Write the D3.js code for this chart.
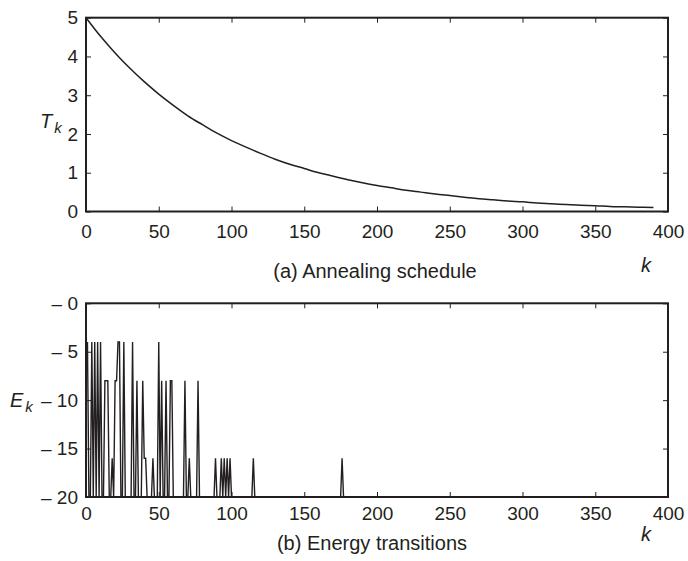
<!DOCTYPE html>
<html>
<head>
<meta charset="utf-8">
<script src="https://cdn.jsdelivr.net/npm/d3@7"></script>
<style>
  body { margin: 0; background: #fff; }
  svg { display: block; }
</style>
</head>
<body>
<div id="main"></div>
<script>
// tick labels
const kTicks = [0, 50, 100, 150, 200, 250, 300, 350, 400];
const tTicks = [0, 1, 2, 3, 4, 5];
const eTicks = [-20, -15, -10, -5, 0];

// (a) annealing schedule, read every 10 steps
const scheduleK = [0, 10, 20, 30, 40, 50, 60, 70, 80, 90, 100, 110, 120, 130, 140, 150, 160, 170, 180, 190,
                   200, 210, 220, 230, 240, 250, 260, 270, 280, 290, 300, 310, 320, 330, 340, 350, 360, 370, 380, 390];
const scheduleT = [5.00, 4.52, 4.09, 3.70, 3.35, 3.03, 2.74, 2.47, 2.24, 2.02, 1.83, 1.66, 1.50, 1.35, 1.22, 1.11, 1.00, 0.91, 0.82, 0.74,
                   0.67, 0.61, 0.55, 0.50, 0.45, 0.41, 0.37, 0.33, 0.30, 0.27, 0.25, 0.22, 0.20, 0.18, 0.16, 0.15, 0.13, 0.12, 0.11, 0.10];

// (b) energy transitions, vertices of the trace
const energyK = [0, 1, 2, 3, 4, 5, 6, 7, 8, 9, 10, 11, 12, 13, 14, 15, 16, 17, 18, 19,
                 20, 21, 22, 23, 24, 25, 26, 27, 31, 32, 33, 34, 35, 36, 38, 39, 40, 41, 42, 45,
                 46, 47, 49, 50, 51, 52, 53, 54, 55, 56, 57, 58, 59, 60, 67, 68, 69, 70, 71, 72,
                 76, 77, 78, 88, 89, 90, 92, 93, 94, 95, 96, 97, 98, 99, 100, 114, 115, 116, 175, 176,
                 177, 390];
const energyE = [-8, -4, -20, -20, -4, -20, -4, -20, -4, -20, -4, -20, -20, -8, -8, -8, -20, -20, -16, -20,
                 -8, -8, -4, -4, -20, -20, -4, -20, -20, -4, -20, -20, -8, -20, -20, -8, -16, -16, -20, -20,
                 -16, -20, -20, -4, -20, -8, -20, -20, -8, -20, -20, -8, -8, -20, -20, -8, -20, -20, -16, -20,
                 -20, -8, -20, -20, -16, -20, -20, -16, -20, -16, -20, -16, -20, -16, -20, -20, -16, -20, -20, -16,
                 -20, -20];

const width = 688, height = 561;
const ink = '#231f20';
const font = '"Liberation Sans", Arial, Helvetica, sans-serif';

const svg = d3.select('#main')
    .append('svg')
    .attr('width', width)
    .attr('height', height);

const x = d3.scaleLinear().domain([0, 400]).range([86, 668]);
const yT = d3.scaleLinear().domain([0, 5]).range([211.5, 17.7]);
const yE = d3.scaleLinear().domain([-20, 0]).range([497, 303.3]);

function styleAxis(g) {
    g.attr('font-family', font)
     .attr('font-size', 19)
     .attr('color', ink);
    g.select('.domain').remove();
    g.selectAll('.tick line').attr('stroke-width', 1);
    g.selectAll('.tick text').attr('fill', ink);
}

function drawFrame(y, yTicks, yFormat, labelPad) {
    const [y0, y1] = y.range();
    svg.append('g')
        .attr('transform', `translate(0,${y0})`)
        .call(d3.axisBottom(x).tickValues(kTicks).tickSize(-5).tickPadding(labelPad).tickFormat(d3.format('d')))
        .call(styleAxis);
    svg.append('g')
        .attr('transform', `translate(0,${y1})`)
        .call(d3.axisTop(x).tickValues(kTicks).tickSize(-5).tickFormat(''))
        .call(styleAxis);
    svg.append('g')
        .attr('transform', `translate(${x.range()[0]},0)`)
        .call(d3.axisLeft(y).tickValues(yTicks).tickSize(-5).tickPadding(8).tickFormat(yFormat))
        .call(styleAxis);
    svg.append('g')
        .attr('transform', `translate(${x.range()[1]},0)`)
        .call(d3.axisRight(y).tickValues(yTicks).tickSize(-5).tickFormat(''))
        .call(styleAxis);
    svg.append('rect')
        .attr('x', x.range()[0])
        .attr('y', y1)
        .attr('width', x.range()[1] - x.range()[0])
        .attr('height', y0 - y1)
        .attr('fill', 'none')
        .attr('stroke', ink)
        .attr('stroke-width', 2);
}

function addText(tx, ty, str, opts) {
    const t = svg.append('text')
        .attr('x', tx)
        .attr('y', ty)
        .attr('font-family', font)
        .attr('font-size', opts.size || 19)
        .attr('fill', ink)
        .attr('text-anchor', opts.anchor || 'start');
    if (opts.italic) t.attr('font-style', 'italic');
    t.text(str);
    return t;
}

function addSubLabel(tx, ty, main, sub) {
    const t = addText(tx, ty, main, {italic: true, size: 20});
    t.append('tspan')
        .attr('font-size', 15)
        .attr('dx', 2)
        .attr('dy', 5)
        .text(sub);
}

// (a) annealing schedule
drawFrame(yT, tTicks, d3.format('d'), 13);

const scheduleLine = d3.line()
    .curve(d3.curveMonotoneX)
    .x((d, i) => x(scheduleK[i]))
    .y(d => yT(d));

svg.append('path')
    .datum(scheduleT)
    .attr('fill', 'none')
    .attr('stroke', ink)
    .attr('stroke-width', 1.5)
    .attr('d', scheduleLine);

addSubLabel(40, 128, 'T', 'k');
addText(375, 278, '(a) Annealing schedule', {anchor: 'middle', size: 20});
addText(646, 272, 'k', {italic: true, size: 20, anchor: 'middle'});

// (b) energy transitions
drawFrame(yE, eTicks, d => '\u2013 ' + Math.abs(d), 10);

const energyLine = d3.line()
    .x((d, i) => x(energyK[i]))
    .y(d => yE(d));

svg.append('path')
    .datum(energyE)
    .attr('fill', 'none')
    .attr('stroke', ink)
    .attr('stroke-width', 1.4)
    .attr('stroke-linejoin', 'miter')
    .attr('d', energyLine);

addSubLabel(10, 407, 'E', 'k');
addText(372, 550, '(b) Energy transitions', {anchor: 'middle', size: 20});
addText(646, 541, 'k', {italic: true, size: 20, anchor: 'middle'});
</script>
</body>
</html>
